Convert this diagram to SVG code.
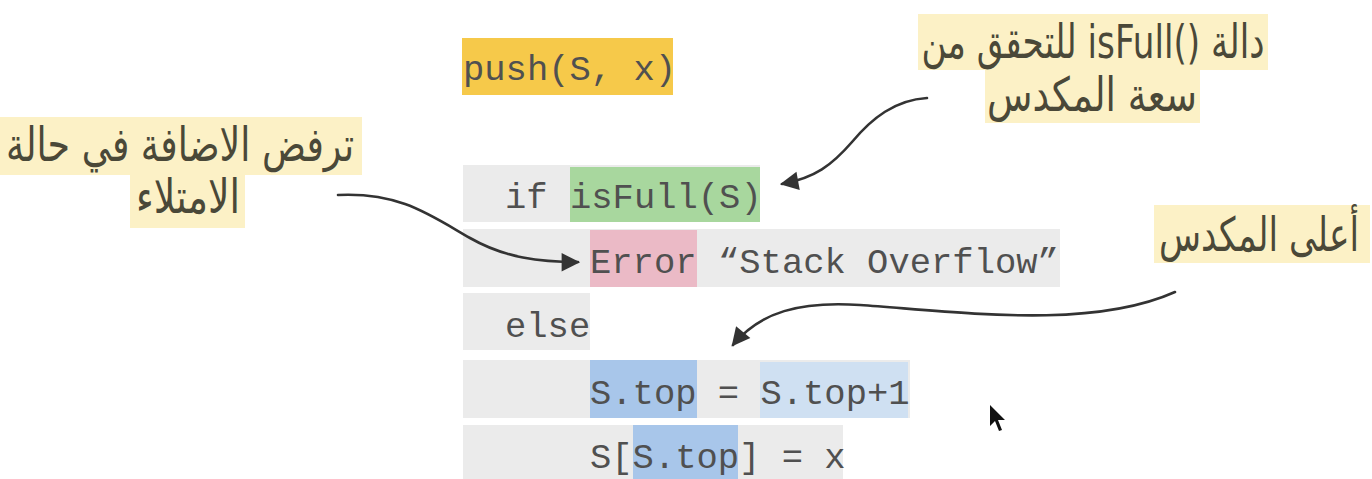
<svg xmlns="http://www.w3.org/2000/svg" width="1372" height="479" viewBox="0 0 1372 479">
<style>
.code{font-family:"Liberation Mono","DejaVu Sans Mono",monospace;font-size:35.5px;fill:#505050;white-space:pre}
.row{fill:#ebebeb}
.hl{fill:#fcf1c6}
.ar{font-family:"DejaVu Sans","Noto Sans",sans-serif;font-size:47px;fill:#4a4838;direction:rtl}
.conn{fill:none;stroke:#333;stroke-width:2.6;stroke-linecap:round}
</style>
<defs>
<marker id="ah" viewBox="0 0 10 10" refX="9" refY="5" markerWidth="8" markerHeight="8" markerUnits="userSpaceOnUse" orient="auto" style="overflow:visible">
<path d="M0,0 L10,5 L0,10 Z" fill="#333" transform="scale(2.3) translate(-5,-2.7)"/>
</marker>
</defs>
<rect width="1372" height="479" fill="#ffffff"/>

<g id="push">
<rect x="462" y="38" width="211" height="57" fill="#f6c94a"/>
<text class="code" x="463" y="80">push(S, x)</text>
</g>

<g id="row1">
<rect class="row" x="463" y="165" width="297" height="57"/>
<rect x="570" y="167" width="190" height="55" fill="#a8d79e"/>
<text class="code" x="505" y="208">if</text>
<text class="code" x="570" y="208">isFull(S)</text>
</g>

<g id="row2">
<rect class="row" x="463" y="229" width="597" height="58"/>
<rect x="590" y="230" width="107" height="57" fill="#ebbac6"/>
<text class="code" x="590" y="273">Error</text>
<text class="code" x="718" y="273">“Stack Overflow”</text>
</g>

<g id="row3">
<rect class="row" x="463" y="293" width="127" height="57"/>
<text class="code" x="505" y="337">else</text>
</g>

<g id="row4">
<rect class="row" x="463" y="360" width="447" height="58"/>
<rect x="590" y="360" width="107" height="58" fill="#a8c6ea"/>
<rect x="760" y="362" width="148" height="56" fill="#cfe0f2"/>
<text class="code" x="590" y="404">S.top = S.top+1</text>
</g>

<g id="row5">
<rect class="row" x="463" y="425" width="380" height="54"/>
<rect x="633" y="425" width="105" height="54" fill="#a8c6ea"/>
<text class="code" x="590" y="468">S[S.top] = x</text>
</g>

<g id="label-isfull">
<rect class="hl" x="918" y="14" width="350" height="56"/>
<rect class="hl" x="985" y="70" width="215" height="53"/>
<text class="ar" x="1093" y="58" text-anchor="middle" textLength="343" lengthAdjust="spacingAndGlyphs">دالة isFull()&#x200E; للتحقق من</text>
<text class="ar" x="1092" y="111" text-anchor="middle" textLength="210" lengthAdjust="spacingAndGlyphs">سعة المكدس</text>
</g>

<g id="label-reject">
<rect class="hl" x="0" y="117" width="362" height="58"/>
<rect class="hl" x="130" y="175" width="115" height="53"/>
<text class="ar" x="180" y="161" text-anchor="middle" textLength="348" lengthAdjust="spacingAndGlyphs">ترفض الاضافة في حالة</text>
<text class="ar" x="188" y="213" text-anchor="middle" textLength="104" lengthAdjust="spacingAndGlyphs">الامتلاء</text>
</g>

<g id="label-top">
<rect class="hl" x="1154" y="205" width="216" height="58"/>
<text class="ar" transform="translate(1259,251) scale(0.75,1)" x="0" y="0" text-anchor="middle" textLength="267" lengthAdjust="spacingAndGlyphs">أعلى المكدس</text>
</g>

<g id="connectors">
<path class="conn" marker-end="url(#ah)" d="M927,98 C895,100 872,118 852,142 C832,165 815,178 782,184"/>
<path class="conn" marker-end="url(#ah)" d="M338,195 C400,192 430,215 470,238 C505,258 540,262 578,262"/>
<path class="conn" marker-end="url(#ah)" d="M1175,292 C1090,330 960,312 860,305 C800,301 760,312 733,345"/>
</g>

<g id="cursor">
<path d="M990,405 L990,426 L995,421 L999,431 L1002,430 L998,420 L1005,420 Z" fill="#111"/>
</g>
</svg>
